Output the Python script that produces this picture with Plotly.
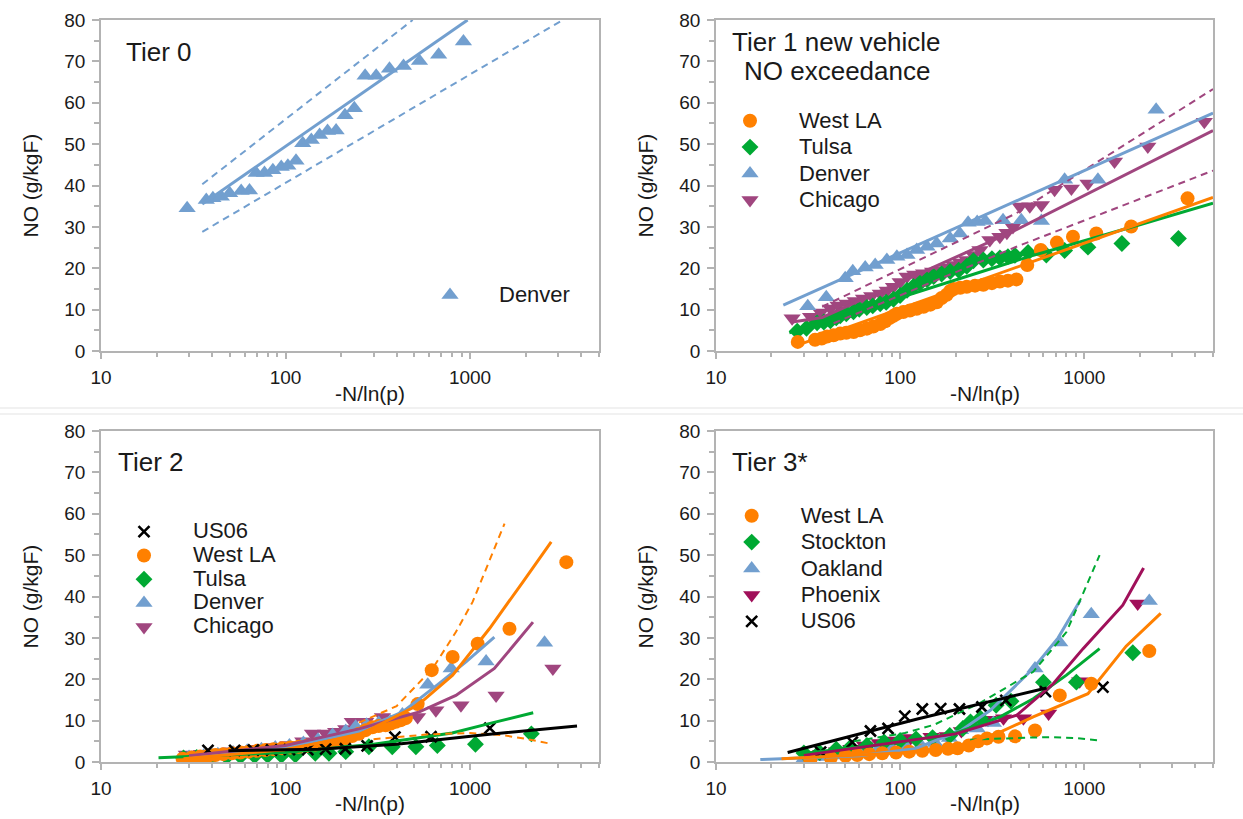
import math
import plotly.graph_objects as go

FONT = "Liberation Sans"
W, H = 1243, 819

# ---------------- data: Tier 0 ----------------
t0_den_x = [29.3, 37.2, 40.4, 44.9, 49.8, 57.5, 63.8, 69.3, 76.9, 85.4, 94.8, 103, 114, 124, 138, 153, 169, 188, 210, 236, 270, 310, 366, 436, 532, 676, 921]
t0_den_y = [34.5, 36.5, 36.9, 37.3, 38.1, 38.7, 38.8, 43.0, 43.0, 43.7, 44.5, 44.8, 46.0, 50.2, 51.0, 52.2, 53.2, 53.3, 57.0, 58.7, 66.5, 66.5, 68.2, 68.9, 70.1, 71.6, 74.8]
t0_fit_x = [35.4, 970]
t0_fit_y = [35.5, 80]
t0_up_x = [35.4, 489]
t0_up_y = [40.3, 80]
t0_lo_x = [35.4, 3177]
t0_lo_y = [28.8, 80]

# ---------------- data: Tier 1 ----------------
t1_wla_x = [27.8, 34.5, 37.5, 40.1, 43.5, 47.3, 51, 55.9, 60.5, 66, 71.5, 78, 83, 88, 92, 96, 104, 113, 123, 134, 146, 158, 168, 179, 187, 195, 212, 230, 255, 283, 315, 348, 385, 428, 490, 580, 710, 868, 1162, 1798, 3637]
t1_wla_y = [2.2, 2.7, 3.0, 3.5, 3.8, 4.2, 4.4, 4.6, 5.0, 5.4, 5.9, 6.5, 7.2, 8.0, 8.5, 9.0, 9.4, 9.8, 10.2, 10.7, 11.2, 11.8, 12.8, 13.6, 14.5, 15.0, 15.3, 15.5, 15.8, 16.0, 16.4, 16.8, 17.0, 17.3, 20.8, 24.4, 26.2, 27.6, 28.4, 30.1, 36.9]
t1_tul_x = [27.6, 31, 35.4, 38.5, 41.8, 45, 47.3, 51, 55.8, 60, 65.9, 71, 77.9, 84, 92, 100, 109, 118, 128, 140, 152, 168, 187, 208, 230, 250, 283, 315, 348, 385, 420, 495, 622, 782, 1047, 1600, 3245]
t1_tul_y = [4.8, 5.5, 6.8, 7.0, 7.3, 8.0, 8.5, 9.0, 9.5, 10.1, 10.5, 10.9, 11.4, 11.8, 12.5, 13.4, 14.7, 15.6, 16.4, 17.2, 18.0, 18.6, 19.2, 19.5, 20.5, 21.8, 22.0, 22.3, 22.5, 22.8, 23.1, 23.8, 23.2, 24.3, 25.1, 26.0, 27.2]
t1_den_x = [31.5, 39.7, 50.3, 55.3, 64.6, 73.2, 84.7, 96, 109, 123, 140, 158, 187, 211, 234, 262, 290, 362, 455, 585, 782, 1186, 2455]
t1_den_y = [10.8, 13.0, 17.6, 19.3, 20.2, 20.8, 22.0, 22.8, 23.2, 24.4, 25.2, 26.0, 27.2, 28.4, 31.0, 31.2, 31.4, 31.6, 31.6, 31.4, 41.4, 41.4, 58.3]
t1_chi_x = [25.9, 32.6, 37, 41.8, 46, 51.4, 57, 63.2, 70, 78, 85, 92, 100, 109, 120, 134, 150, 165, 180, 195, 212, 230, 250, 271, 307, 348, 380, 410, 447, 506, 585, 690, 851, 1047, 1459, 2213, 4486]
t1_chi_y = [7.9, 8.3, 9.3, 10.3, 11.0, 11.5, 12.1, 12.7, 13.3, 13.9, 14.6, 15.5, 16.7, 18.0, 18.5, 18.8, 19.2, 19.6, 20.2, 20.8, 21.4, 22.0, 23.2, 24.4, 26.8, 27.6, 28.6, 30.0, 34.9, 35.0, 35.3, 39.0, 39.3, 40.5, 45.8, 49.4, 55.4]
t1_wla_fit_x = [28, 5000]
t1_wla_fit_y = [1.5, 37.1]
t1_tul_fit_x = [25, 100, 500, 2000, 5000]
t1_tul_fit_y = [4.4, 13.0, 22.8, 30.5, 35.7]
t1_den_fit_x = [23.2, 5000]
t1_den_fit_y = [11.1, 57.5]
t1_chi_fit_x = [26, 37.7, 428, 5000]
t1_chi_fit_y = [7.0, 8.1, 29.3, 53.3]
t1_chi_up_x = [37.7, 428, 782, 2000, 5000]
t1_chi_up_y = [10.7, 33.3, 40.7, 52.1, 63.3]
t1_chi_lo_x = [43.5, 428, 5000]
t1_chi_lo_y = [6.7, 25.2, 43.6]

# ---------------- data: Tier 2 ----------------
t2_us6_x = [38, 53, 67, 84, 105, 132, 165, 211, 277, 392, 615, 1280]
t2_us6_y = [2.8, 2.8, 2.9, 2.9, 3.0, 3.0, 3.1, 3.2, 3.9, 6.0, 6.1, 8.2]
t2_wla_x = [27.7, 31, 34.5, 38, 41.7, 46, 51.3, 57, 63.2, 70, 77.9, 86, 95.9, 106, 118, 131, 145, 160, 179, 195, 212, 230, 250, 272, 296, 320, 349, 372, 396, 420, 449, 520, 620, 805, 1100, 1636, 3326]
t2_wla_y = [0.8, 1.1, 1.3, 1.5, 1.7, 1.9, 2.1, 2.3, 2.5, 2.7, 2.9, 3.1, 3.3, 3.5, 3.7, 3.9, 4.2, 4.6, 5.0, 5.4, 5.8, 6.3, 6.8, 7.7, 8.4, 8.7, 8.9, 9.3, 9.7, 10.1, 10.6, 14.0, 22.2, 25.4, 28.6, 32.2, 48.3]
t2_tul_x = [28, 33, 40, 48, 57, 68, 80, 95, 113, 145, 172, 212, 283, 379, 509, 665, 1070, 2150]
t2_tul_y = [1.0, 1.1, 1.2, 1.3, 1.4, 1.5, 1.6, 1.6, 1.7, 2.1, 2.1, 2.5, 3.7, 3.7, 3.7, 4.0, 4.3, 6.8]
t2_den_x = [30, 36, 43, 52, 62, 74, 88, 105, 125, 150, 180, 212, 240, 275, 320, 370, 430, 590, 790, 1222, 2535]
t2_den_y = [1.2, 1.5, 1.9, 2.3, 2.7, 3.1, 3.5, 4.0, 4.6, 5.4, 6.5, 7.5, 8.5, 9.0, 9.4, 9.8, 11.5, 18.7, 22.6, 24.3, 28.8]
t2_chi_x = [29, 35, 42, 50, 60, 72, 86, 103, 124, 140, 165, 187, 212, 230, 272, 335, 430, 520, 653, 893, 1384, 2812]
t2_chi_y = [1.8, 2.0, 2.3, 2.6, 2.9, 3.2, 3.6, 4.1, 5.0, 6.9, 6.9, 7.3, 8.0, 9.7, 9.7, 10.9, 10.5, 10.9, 12.5, 13.7, 16.1, 22.6]
t2_us6_fit_x = [49, 150, 400, 1200, 3800]
t2_us6_fit_y = [2.7, 3.1, 4.3, 6.6, 8.7]
t2_tul_fit_x = [20.5, 100, 300, 800, 1300, 2200]
t2_tul_fit_y = [1.0, 2.3, 4.3, 7.0, 9.4, 11.9]
t2_wla_fit_x = [28, 100, 250, 520, 805, 1273, 1932, 2754]
t2_wla_fit_y = [0.8, 3.0, 6.5, 13.7, 21.0, 32.2, 43.5, 53.2]
t2_wla_up_x = [250, 400, 627, 838, 1033, 1273, 1538]
t2_wla_up_y = [9.5, 13.5, 22.6, 31.4, 38.7, 48.4, 57.6]
t2_wla_lo_x = [300, 600, 1000, 1500, 2000, 2750]
t2_wla_lo_y = [5.5, 6.7, 7.0, 6.5, 5.6, 4.4]
t2_den_fit_x = [30, 100, 250, 431, 681, 951, 1355]
t2_den_fit_y = [1.0, 3.5, 7.5, 12.1, 19.0, 24.2, 30.2]
t2_chi_fit_x = [30, 100, 250, 531, 838, 1355, 2193]
t2_chi_fit_y = [1.5, 4.0, 8.0, 12.1, 16.1, 22.6, 33.8]

# ---------------- data: Tier 3* ----------------
t3_wla_x = [32.5, 42, 50.5, 58.5, 68, 80, 95, 112, 132, 156, 182, 205, 236, 265, 296, 342, 421, 540, 736, 1091, 2254]
t3_wla_y = [0.5, 1.0, 1.5, 1.7, 1.9, 2.1, 2.3, 2.5, 2.7, 2.9, 3.2, 3.3, 4.0, 5.0, 5.7, 6.1, 6.2, 7.6, 16.1, 18.9, 26.8]
t3_sto_x = [30, 36.5, 45, 53, 66, 82, 100, 122, 150, 186, 219, 241, 273, 332, 400, 600, 906, 1834]
t3_sto_y = [2.2, 2.3, 3.1, 3.3, 4.0, 4.8, 5.2, 5.6, 5.9, 6.4, 8.1, 9.7, 10.6, 13.7, 14.7, 19.3, 19.3, 26.4]
t3_oak_x = [30, 36, 43, 52, 62, 75, 90, 108, 130, 155, 185, 213, 262, 321, 540, 736, 1091, 2254]
t3_oak_y = [0.8, 1.2, 1.6, 2.0, 2.4, 2.8, 3.2, 3.6, 4.0, 4.6, 5.8, 7.7, 8.1, 9.4, 22.6, 28.9, 35.7, 38.9]
t3_pho_x = [31, 37, 45, 54, 64, 77, 92, 114, 147, 180, 215, 260, 300, 364, 467, 640, 944, 1950]
t3_pho_y = [1.5, 2.0, 2.6, 3.2, 4.0, 4.6, 5.2, 5.8, 6.1, 6.3, 7.5, 9.0, 10.2, 10.6, 10.6, 11.7, 19.5, 38.3]
t3_us6_x = [37, 55, 69, 86, 106, 132, 166, 210, 278, 375, 615, 1262]
t3_us6_y = [2.4, 4.8, 7.5, 8.1, 11.1, 12.8, 12.9, 12.8, 13.3, 14.9, 17.0, 18.1]
t3_us6_fit_x = [24.5, 124, 624]
t3_us6_fit_y = [2.3, 10.4, 17.9]
t3_wla_fit_x = [22.7, 100, 200, 349, 528, 1047, 1687, 2600]
t3_wla_fit_y = [0.8, 2.2, 3.6, 7.2, 10.9, 16.5, 28.0, 35.9]
t3_oak_fit_x = [17.4, 60, 120, 212, 309, 528, 721, 951]
t3_oak_fit_y = [0.6, 1.5, 3.2, 7.5, 12.5, 22.6, 30.0, 39.1]
t3_pho_fit_x = [30, 100, 200, 430, 678, 985, 1618, 2099]
t3_pho_fit_y = [1.6, 4.8, 6.8, 11.3, 18.9, 27.4, 37.9, 46.9]
t3_sto_fit_x = [29, 100, 200, 349, 528, 800, 1211]
t3_sto_fit_y = [2.0, 4.8, 7.0, 10.9, 15.3, 21.0, 27.4]
t3_sto_up_x = [56, 106, 153, 272, 528, 800, 1211]
t3_sto_up_y = [5.0, 7.0, 9.0, 14.3, 21.8, 31.4, 50.0]
t3_sto_lo_x = [240, 349, 500, 650, 900, 1211]
t3_sto_lo_y = [5.4, 5.7, 5.9, 6.0, 5.8, 5.2]

# ---------------- axis labels ----------------
x_tick_vals = [10, 100, 1000]
x_tick_text = ["10", "100", "1000"]
x_title = "-N/ln(p)"
y_title = "NO (g/kgF)"
panel_titles = ["Tier 0", "Tier 1 new vehicle", "NO exceedance", "Tier 2", "Tier 3*"]

# ---------------- styles ----------------
C_WLA = "#FF8000"
C_GRN = "#00A933"
C_BLU = "#729FCF"
C_CHI = "#A0467F"
C_PHX = "#A0105A"
C_BLK = "#000000"
AXC = "#B3B3B3"
TXT = "#1a1a1a"

fig = go.Figure()


def pts(label, x, y, color, symbol, size, k, legend, rank):
    sym = dict(symbol=symbol, size=size, color=color, line=dict(width=0, color=color))
    if symbol == "x-thin":
        sym["line"] = dict(width=2.6, color=color)
    fig.add_trace(go.Scatter(
        x=x, y=y, mode="markers", marker=sym,
        name='<span style="font-size:22px">%s</span>' % label,
        xaxis="x" + ("" if k == 1 else str(k)), yaxis="y" + ("" if k == 1 else str(k)),
        legend=legend, legendrank=rank, showlegend=True))


def ln(x, y, color, k, dash=None, width=3):
    fig.add_trace(go.Scatter(
        x=x, y=y, mode="lines",
        line=dict(color=color, width=(2 if dash else width), dash=("7px,5px" if dash else "solid")),
        xaxis="x" + ("" if k == 1 else str(k)), yaxis="y" + ("" if k == 1 else str(k)),
        showlegend=False, hoverinfo="skip"))


# Tier 0
pts("Denver", t0_den_x, t0_den_y, C_BLU, "triangle-up", 15, 1, "legend", 1)
ln(t0_fit_x, t0_fit_y, C_BLU, 1)
ln(t0_up_x, t0_up_y, C_BLU, 1, dash=True)
ln(t0_lo_x, t0_lo_y, C_BLU, 1, dash=True)

# Tier 1
pts("Chicago", t1_chi_x, t1_chi_y, C_CHI, "triangle-down", 15, 2, "legend2", 4)
pts("Denver", t1_den_x, t1_den_y, C_BLU, "triangle-up", 15, 2, "legend2", 3)
pts("Tulsa", t1_tul_x, t1_tul_y, C_GRN, "diamond", 13, 2, "legend2", 2)
pts("West LA", t1_wla_x, t1_wla_y, C_WLA, "circle", 14, 2, "legend2", 1)
ln(t1_tul_fit_x, t1_tul_fit_y, C_GRN, 2)
ln(t1_wla_fit_x, t1_wla_fit_y, C_WLA, 2)
ln(t1_chi_fit_x, t1_chi_fit_y, C_CHI, 2)
ln(t1_chi_up_x, t1_chi_up_y, C_CHI, 2, dash=True)
ln(t1_chi_lo_x, t1_chi_lo_y, C_CHI, 2, dash=True)
ln(t1_den_fit_x, t1_den_fit_y, C_BLU, 2)

# Tier 2
pts("Chicago", t2_chi_x, t2_chi_y, C_CHI, "triangle-down", 15, 3, "legend3", 5)
pts("Denver", t2_den_x, t2_den_y, C_BLU, "triangle-up", 15, 3, "legend3", 4)
pts("Tulsa", t2_tul_x, t2_tul_y, C_GRN, "diamond", 13, 3, "legend3", 3)
pts("West LA", t2_wla_x, t2_wla_y, C_WLA, "circle", 14, 3, "legend3", 2)
pts("US06", t2_us6_x, t2_us6_y, C_BLK, "x-thin", 11, 3, "legend3", 1)
ln(t2_tul_fit_x, t2_tul_fit_y, C_GRN, 3)
ln(t2_den_fit_x, t2_den_fit_y, C_BLU, 3)
ln(t2_chi_fit_x, t2_chi_fit_y, C_CHI, 3)
ln(t2_wla_fit_x, t2_wla_fit_y, C_WLA, 3)
ln(t2_wla_up_x, t2_wla_up_y, C_WLA, 3, dash=True)
ln(t2_wla_lo_x, t2_wla_lo_y, C_WLA, 3, dash=True)
ln(t2_us6_fit_x, t2_us6_fit_y, C_BLK, 3)

# Tier 3*
pts("Phoenix", t3_pho_x, t3_pho_y, C_PHX, "triangle-down", 15, 4, "legend4", 4)
pts("Oakland", t3_oak_x, t3_oak_y, C_BLU, "triangle-up", 15, 4, "legend4", 3)
pts("Stockton", t3_sto_x, t3_sto_y, C_GRN, "diamond", 13, 4, "legend4", 2)
pts("West LA", t3_wla_x, t3_wla_y, C_WLA, "circle", 14, 4, "legend4", 1)
pts("US06", t3_us6_x, t3_us6_y, C_BLK, "x-thin", 11, 4, "legend4", 5)
ln(t3_oak_fit_x, t3_oak_fit_y, C_BLU, 4)
ln(t3_sto_fit_x, t3_sto_fit_y, C_GRN, 4)
ln(t3_sto_up_x, t3_sto_up_y, C_GRN, 4, dash=True)
ln(t3_sto_lo_x, t3_sto_lo_y, C_GRN, 4, dash=True)
ln(t3_pho_fit_x, t3_pho_fit_y, C_PHX, 4)
ln(t3_wla_fit_x, t3_wla_fit_y, C_WLA, 4)
ln(t3_us6_fit_x, t3_us6_fit_y, C_BLK, 4)

# ---------------- axes ----------------
minor_x = [m * d for d in (10, 100, 1000) for m in range(2, 10) if m * d <= 5000]
tickfont = dict(family=FONT, size=19, color=TXT)


def xax(dom, anchor):
    return dict(domain=dom, anchor=anchor, type="log", range=[1, math.log10(5000)],
                tickmode="array", tickvals=x_tick_vals, ticktext=x_tick_text,
                ticks="outside", ticklen=6, tickwidth=1.5, tickcolor=AXC,
                showline=True, linecolor=AXC, linewidth=1.5, mirror=True,
                showgrid=False, zeroline=False, tickfont=tickfont, ticklabelstandoff=2,
                automargin=False,
                minor=dict(tickmode="array", tickvals=minor_x, ticks="outside", ticklen=4,
                           tickwidth=1.5, tickcolor=AXC, showgrid=False))


def yax(dom, anchor):
    return dict(domain=dom, anchor=anchor, range=[0, 80], tick0=0, dtick=10,
                ticks="outside", ticklen=7, tickwidth=1.5, tickcolor=AXC,
                showline=True, linecolor=AXC, linewidth=1.5, mirror=True,
                showgrid=False, zeroline=False, tickfont=tickfont, ticklabelstandoff=3,
                automargin=False,
                minor=dict(dtick=5, tick0=0, ticks="outside", ticklen=5, tickwidth=1.5,
                           tickcolor=AXC, showgrid=False))


xl = [101 / W, 599 / W]
xr = [716 / W, 1213 / W]
yt = [1 - 351 / H, 1 - 20 / H]
yb = [1 - 762 / H, 1 - 431 / H]


def leg(xp, yp, fs):
    return dict(x=xp / W, y=1 - yp / H, xanchor="left", yanchor="top",
                font=dict(family=FONT, size=fs, color=TXT), itemwidth=88,
                bgcolor="rgba(0,0,0,0)", borderwidth=0, tracegroupgap=0,
                traceorder="normal")


def ann(text, xp, yp, size, xanchor="left", angle=0):
    return dict(text=text, x=xp / W, y=1 - yp / H, xref="paper", yref="paper",
                xanchor=xanchor, yanchor="middle", showarrow=False, textangle=angle,
                font=dict(family=FONT, size=size, color=TXT))


annotations = [
    ann(panel_titles[0], 124, 52, 26),
    ann(panel_titles[1], 730, 42, 26),
    ann(panel_titles[2], 742, 71, 26),
    ann(panel_titles[3], 116, 462, 26),
    ann(panel_titles[4], 730, 462, 26),
    ann(y_title, 30, 185.5, 21, "center", -90),
    ann(y_title, 645, 185.5, 21, "center", -90),
    ann(y_title, 30, 596.5, 21, "center", -90),
    ann(y_title, 645, 596.5, 21, "center", -90),
    ann(x_title, 370, 393, 21, "center"),
    ann(x_title, 985, 393, 21, "center"),
    ann(x_title, 370, 803, 21, "center"),
    ann(x_title, 985, 803, 21, "center"),
]

shapes = [
    dict(type="line", xref="paper", yref="paper", x0=0, x1=1, y0=1 - 408 / H, y1=1 - 408 / H,
         line=dict(color="#E3E3E3", width=1)),
    dict(type="line", xref="paper", yref="paper", x0=0, x1=1, y0=1 - 414 / H, y1=1 - 414 / H,
         line=dict(color="#E3E3E3", width=1)),
]

fig.update_layout(
    width=W, height=H, autosize=False,
    margin=dict(l=0, r=0, t=0, b=0, pad=0, autoexpand=False),
    paper_bgcolor="white", plot_bgcolor="white",
    font=dict(family=FONT, color=TXT),
    xaxis=xax(xl, "y"), yaxis=yax(yt, "x"),
    xaxis2=xax(xr, "y2"), yaxis2=yax(yt, "x2"),
    xaxis3=xax(xl, "y3"), yaxis3=yax(yb, "x3"),
    xaxis4=xax(xr, "y4"), yaxis4=yax(yb, "x4"),
    legend=leg(401, 276.8, 18),
    legend2=leg(701, 102.5, 18),
    legend3=leg(95, 514.8, 16),
    legend4=leg(702.7, 497.5, 18),
    annotations=annotations,
    shapes=shapes,
    hovermode=False,
)

fig.write_html("out.html", config={"displayModeBar": False},
               post_script="document.body.style.margin='0';document.body.style.overflow='hidden';")
